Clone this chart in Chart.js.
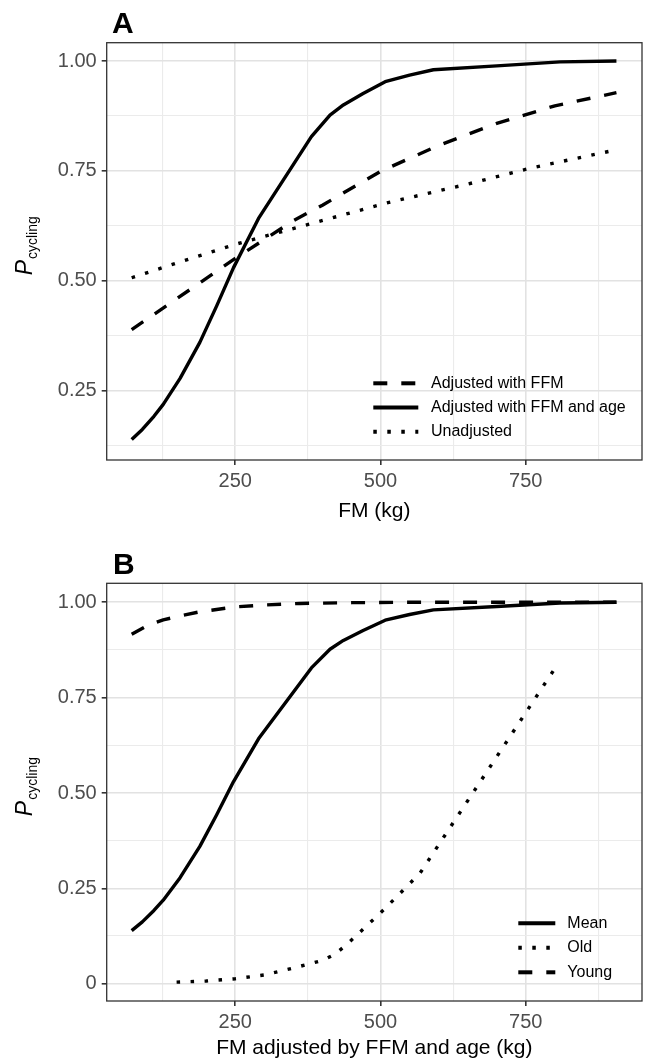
<!DOCTYPE html>
<html>
  <head>
    <title>P cycling by FM</title>
    <script src="https://cdn.jsdelivr.net/npm/chart.js@4.4.0/dist/chart.umd.min.js"></script>
    <style>
      body { margin: 0; background: #fff; }
      canvas { display: block; }
    </style>
  </head>
  <body>
    <canvas id="chartA" width="645" height="530"></canvas>
    <canvas id="chartB" width="645" height="533"></canvas>
    <script>
      // adjusted with FFM and age (same curve is "Mean" in panel B)
      const meanFM = [71.7, 90, 110, 126, 155, 189, 218, 247, 290, 381, 413, 436, 470, 508, 550, 591, 700, 809, 906];
      const meanP = [0.139, 0.162, 0.192, 0.219, 0.278, 0.360, 0.443, 0.530, 0.642, 0.828, 0.877, 0.900, 0.926, 0.953, 0.968, 0.980, 0.989, 0.998, 1.0];

      // adjusted with FFM only
      const ffmFM = [71.7, 150, 250, 350, 400, 500, 600, 700, 800, 906];
      const ffmP = [0.389, 0.460, 0.551, 0.637, 0.672, 0.749, 0.808, 0.858, 0.898, 0.928];

      // unadjusted
      const unadjFM = [71.7, 150, 250, 361, 510, 650, 757, 906];
      const unadjP = [0.507, 0.541, 0.583, 0.623, 0.677, 0.720, 0.756, 0.798];

      // panel B: young and old
      const youngFM = [71.7, 100, 126, 160, 189, 250, 300, 361, 450, 550, 700, 906];
      const youngP = [0.916, 0.940, 0.954, 0.966, 0.975, 0.988, 0.993, 0.997, 0.999, 1.0, 1.0, 1.0];
      const oldFM = [149, 200, 250, 300, 350, 400, 420, 440, 505, 568, 805];
      const oldP = [0.004, 0.007, 0.013, 0.023, 0.041, 0.061, 0.076, 0.100, 0.193, 0.290, 0.838];

      // axes
      const xMajor = [250, 500, 750];
      const xMinor = [125, 375, 625, 875];
      const xLabels = ["250", "500", "750"];
      const yMajorA = [0.25, 0.5, 0.75, 1];
      const yMinorA = [0.125, 0.375, 0.625, 0.875];
      const yLabelsA = ["0.25", "0.50", "0.75", "1.00"];
      const yMajorB = [0, 0.25, 0.5, 0.75, 1];
      const yMinorB = [0.125, 0.375, 0.625, 0.875];
      const yLabelsB = ["0", "0.25", "0.50", "0.75", "1.00"];

      const FONT = "'Liberation Sans', Arial, Helvetica, sans-serif";
      const DASHED = [14, 14];
      const DOTTED = [3.5, 10.5];
      const SOLID = [];

      function pts(xs, ys) {
        return xs.map((x, i) => ({ x: x, y: ys[i] }));
      }

      function line(label, xs, ys, dash) {
        return {
          label: label,
          data: pts(xs, ys),
          borderColor: "#000",
          borderWidth: 3.4,
          borderDash: dash,
          borderCapStyle: "butt",
          borderJoinStyle: "round",
          pointRadius: 0,
          tension: 0,
          fill: false,
        };
      }

      function axis(min, max, major, minor, labels, fixSize, isX) {
        const all = major.concat(minor).sort((a, b) => a - b);
        return {
          type: "linear",
          min: min,
          max: max,
          afterBuildTicks: (scale) => {
            scale.ticks = all.map((v) => ({ value: v }));
          },
          afterFit: (scale) => {
            if (isX) scale.height = fixSize;
            else scale.width = fixSize;
          },
          border: { display: false },
          grid: {
            color: (c) => (major.includes(c.tick.value) ? "#e2e2e2" : "#ebebeb"),
            lineWidth: (c) => (major.includes(c.tick.value) ? 1.6 : 1.1),
            tickColor: (c) => (major.includes(c.tick.value) ? "#333333" : "rgba(0,0,0,0)"),
            tickLength: 5,
            drawTicks: true,
          },
          ticks: {
            autoSkip: false,
            maxRotation: 0,
            padding: isX ? 4 : 5,
            color: "#4d4d4d",
            font: { family: FONT, size: 20 },
            callback: (value) => {
              const i = major.indexOf(value);
              return i >= 0 ? labels[i] : "";
            },
          },
        };
      }

      const decor = {
        id: "decor",
        afterDraw(chart, args, opts) {
          const ctx = chart.ctx;
          const a = chart.chartArea;
          ctx.save();
          ctx.strokeStyle = "#333333";
          ctx.lineWidth = 1.3;
          ctx.setLineDash([]);
          ctx.strokeRect(a.left, a.top, a.right - a.left, a.bottom - a.top);

          ctx.fillStyle = "#000";
          ctx.font = "bold 30px " + FONT;
          ctx.textAlign = "left";
          ctx.textBaseline = "alphabetic";
          ctx.fillText(opts.letter, opts.letterX, opts.letterY);

          ctx.font = "21px " + FONT;
          ctx.textAlign = "center";
          ctx.textBaseline = "middle";
          ctx.fillText(opts.xTitle, (a.left + a.right) / 2, a.bottom + opts.xTitleGap);

          // legend inside the panel
          ctx.font = "16px " + FONT;
          ctx.textAlign = "left";
          opts.legendOrder.forEach((di, k) => {
            const ds = chart.data.datasets[di];
            const y = opts.legendY + k * opts.legendStep;
            ctx.save();
            ctx.strokeStyle = "#000";
            ctx.lineWidth = 4;
            ctx.lineCap = "butt";
            ctx.setLineDash(ds.borderDash);
            ctx.beginPath();
            ctx.moveTo(opts.legendX, y);
            ctx.lineTo(opts.legendX + opts.legendLen, y);
            ctx.stroke();
            ctx.restore();
            ctx.fillText(ds.label, opts.legendTextX, y);
          });

          // y title: italic P with subscript
          const mid = (a.top + a.bottom) / 2;
          ctx.translate(32, mid + 24);
          ctx.rotate(-Math.PI / 2);
          ctx.textAlign = "left";
          ctx.textBaseline = "alphabetic";
          ctx.font = "italic 23px " + FONT;
          ctx.fillText("P", 0, 0);
          const w = ctx.measureText("P").width;
          ctx.font = "14px " + FONT;
          ctx.fillText("cycling", w + 1, 5);
          ctx.restore();
        },
      };

      function makeChart(id, datasets, yScale, xHeight, padTop, decorOpts) {
        return new Chart(document.getElementById(id), {
          type: "line",
          data: { datasets: datasets },
          options: {
            responsive: false,
            animation: false,
            layout: { padding: { top: padTop, right: 3, left: 0, bottom: 0 } },
            scales: {
              x: axis(28.7, 950, xMajor, xMinor, xLabels, xHeight, true),
              y: yScale,
            },
            plugins: {
              legend: { display: false },
              tooltip: { enabled: false },
              decor: decorOpts,
            },
          },
          plugins: [decor],
        });
      }

      makeChart(
        "chartA",
        [
          line("Adjusted with FFM", ffmFM, ffmP, DASHED),
          line("Adjusted with FFM and age", meanFM, meanP, SOLID),
          line("Unadjusted", unadjFM, unadjP, DOTTED),
        ],
        axis(0.0925, 1.0416, yMajorA, yMinorA, yLabelsA, 106.7, false),
        70,
        42.7,
        {
          letter: "A", letterX: 112, letterY: 33.3,
          xTitle: "FM (kg)", xTitleGap: 51,
          legendOrder: [0, 1, 2], legendX: 373.3, legendLen: 45, legendTextX: 431,
          legendY: 383.3, legendStep: 24.2,
        }
      );

      makeChart(
        "chartB",
        [
          line("Mean", meanFM, meanP, SOLID),
          line("Old", oldFM, oldP, DOTTED),
          line("Young", youngFM, youngP, DASHED),
        ],
        axis(-0.0454, 1.0498, yMajorB, yMinorB, yLabelsB, 106.7, false),
        62,
        53.3,
        {
          letter: "B", letterX: 113, letterY: 43.7,
          xTitle: "FM adjusted by FFM and age (kg)", xTitleGap: 47,
          legendOrder: [0, 1, 2], legendX: 518.3, legendLen: 37, legendTextX: 567.3,
          legendY: 393.3, legendStep: 24.5,
        }
      );
    </script>
  </body>
</html>
